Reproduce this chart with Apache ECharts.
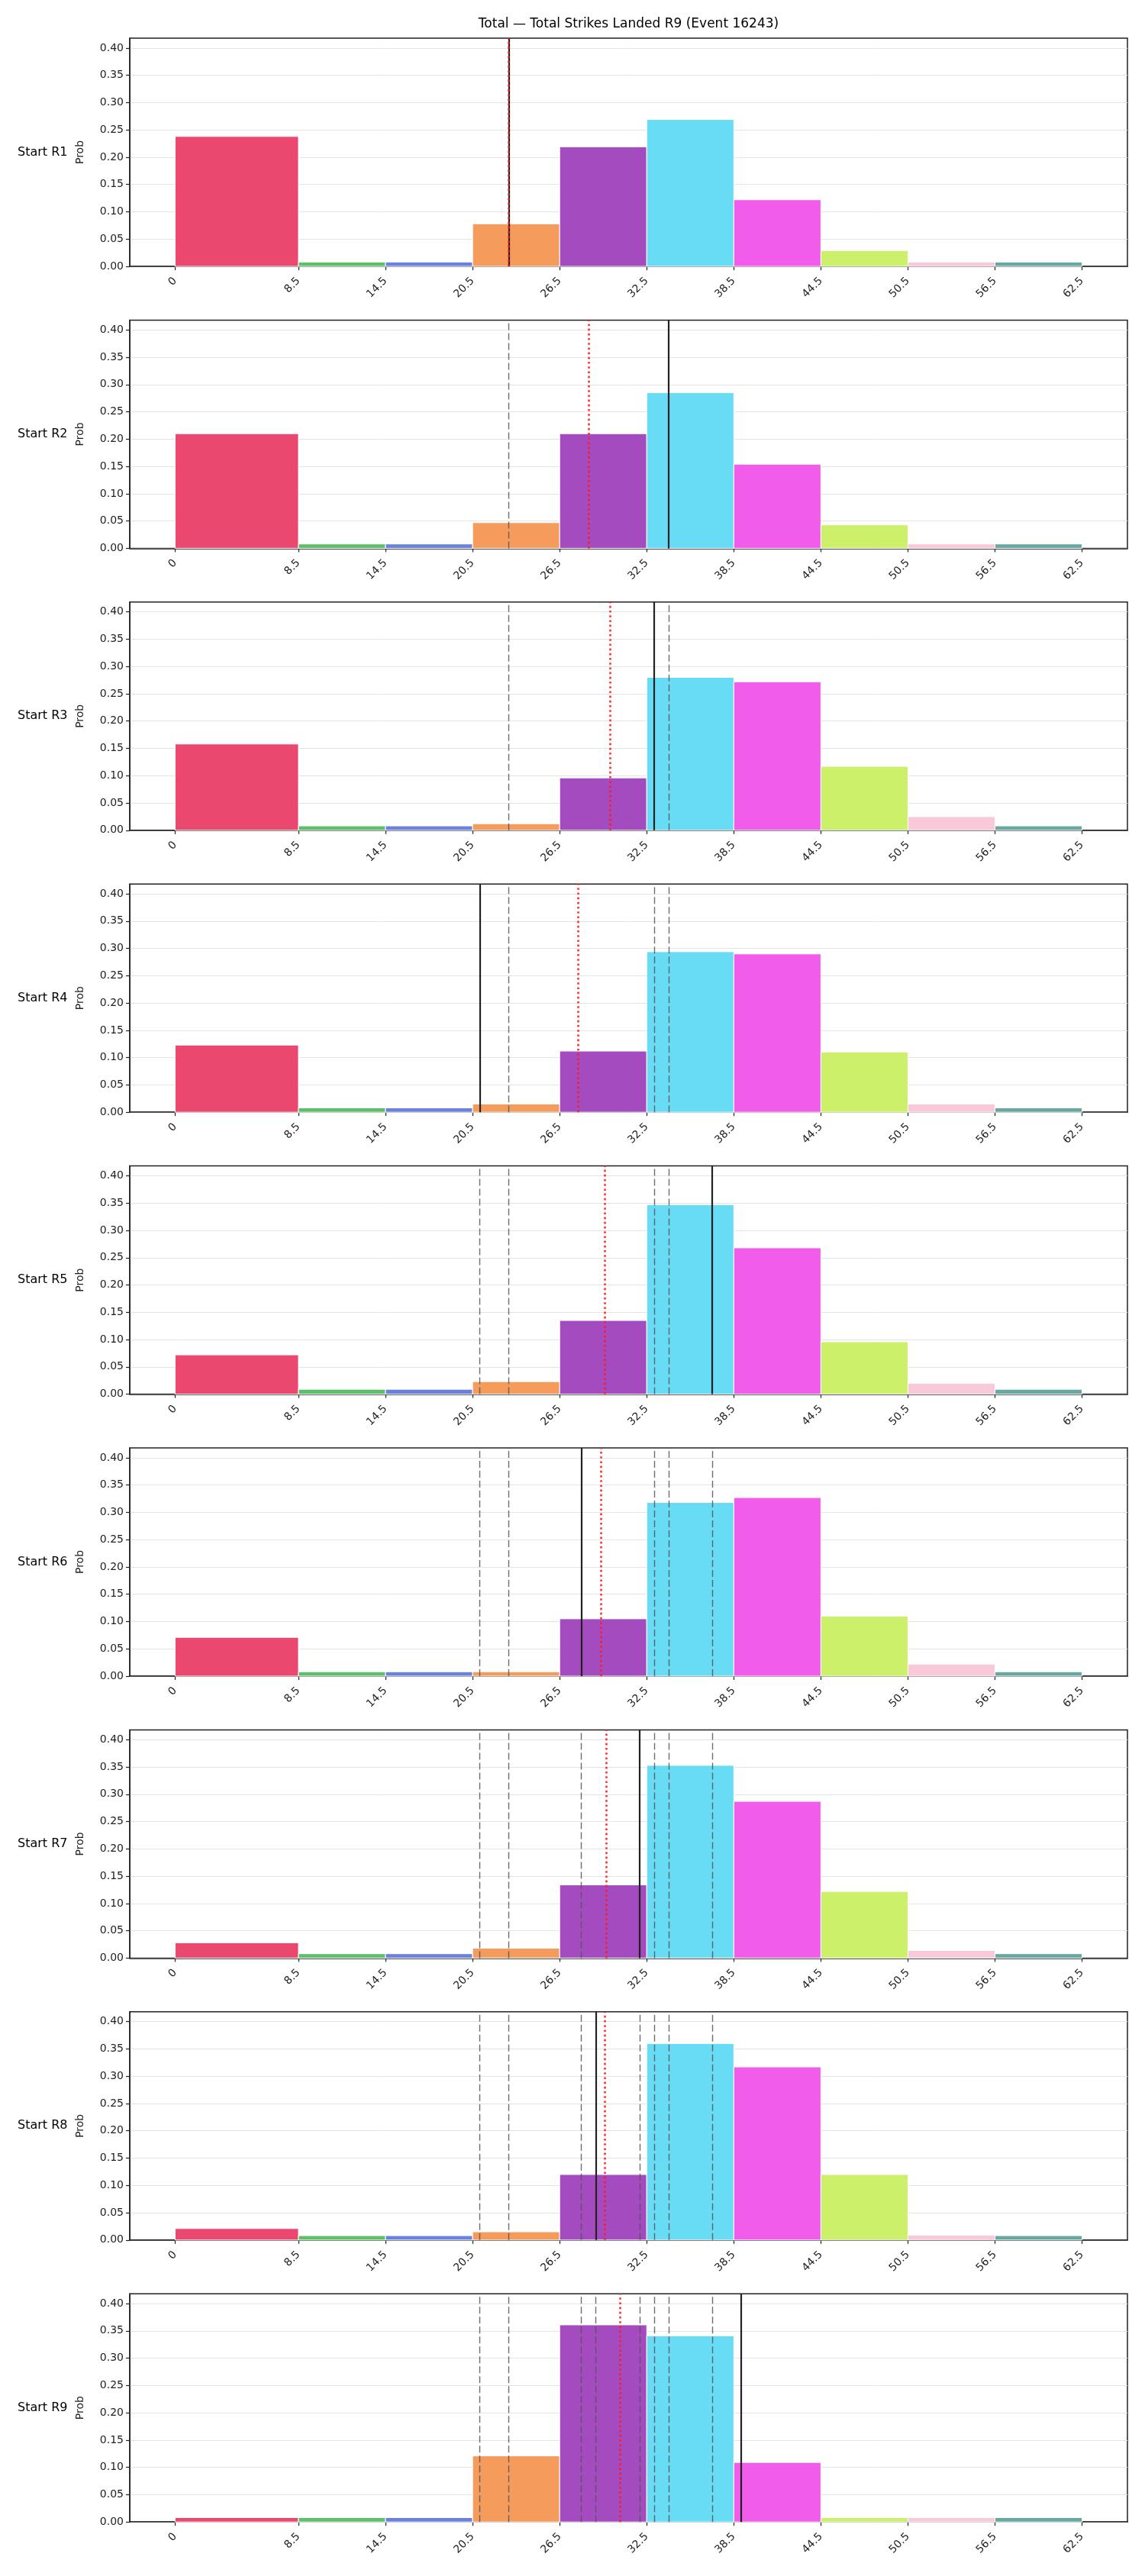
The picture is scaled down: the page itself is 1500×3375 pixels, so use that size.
<!DOCTYPE html>
<html>
<head>
<meta charset="utf-8">
<script src="https://cdn.jsdelivr.net/npm/echarts@6/dist/echarts.min.js"></script>
<style>
html,body{margin:0;padding:0;background:#fff;}
#chart{width:1500px;height:3375px;}
</style>
</head>
<body>
<div id="chart"></div>
<script>
// ---- data ----
const chartTitle = 'Total \u2014 Total Strikes Landed R9 (Event 16243)';
const binEdges = [0, 8.5, 14.5, 20.5, 26.5, 32.5, 38.5, 44.5, 50.5, 56.5, 62.5];
const rowLabels = ['Start R1','Start R2','Start R3','Start R4','Start R5','Start R6','Start R7','Start R8','Start R9'];
const probR1 = [0.238, 0.008, 0.008, 0.078, 0.219, 0.269, 0.122, 0.029, 0.008, 0.008];
const probR2 = [0.210, 0.008, 0.008, 0.047, 0.210, 0.285, 0.154, 0.043, 0.008, 0.008];
const probR3 = [0.158, 0.008, 0.008, 0.012, 0.096, 0.280, 0.272, 0.117, 0.025, 0.008];
const probR4 = [0.123, 0.008, 0.008, 0.015, 0.112, 0.294, 0.290, 0.110, 0.015, 0.008];
const probR5 = [0.072, 0.009, 0.009, 0.023, 0.135, 0.347, 0.268, 0.096, 0.020, 0.009];
const probR6 = [0.071, 0.008, 0.008, 0.008, 0.105, 0.318, 0.327, 0.110, 0.022, 0.008];
const probR7 = [0.028, 0.008, 0.008, 0.018, 0.134, 0.353, 0.287, 0.122, 0.014, 0.008];
const probR8 = [0.021, 0.008, 0.008, 0.015, 0.120, 0.360, 0.317, 0.120, 0.009, 0.008];
const probR9 = [0.008, 0.008, 0.008, 0.121, 0.361, 0.341, 0.109, 0.008, 0.008, 0.008];
const roundActuals = [23, 34, 33, 21, 37, 28, 32, 29, 39];
const runningMeans = [23, 28.5, 30, 27.75, 29.6, 29.33, 29.71, 29.63, 30.67];
const yTicks = [0, 0.05, 0.10, 0.15, 0.20, 0.25, 0.30, 0.35, 0.40];
const binColors = ['#EB4870','#5EBF6B','#6A82DE','#F59B5C','#A44BBF','#68DBF5','#F25CEA','#CCF06A','#F9C9D9','#68A8A0'];

const allProbs = [probR1, probR2, probR3, probR4, probR5, probR6, probR7, probR8, probR9];

// ---- layout ----
const plotLeft = 170, plotRight = 23, firstTop = 50, pitch = 369.4, plotH = 299;
const xMin = -3.125, xMax = 65.625, yMax = 0.418;
const FONT = 'DejaVu Sans';

const grids = [], xAxes = [], yAxes = [], series = [], graphics = [];

graphics.push({type:'text', x: plotLeft + (1500 - plotLeft - plotRight)/2, y: 32,
  style:{text: chartTitle, font: '17px "DejaVu Sans"', fill:'#000', textAlign:'center', textVerticalAlign:'middle'}});

allProbs.forEach((probs, k) => {
  const top = firstTop + k * pitch;
  grids.push({left: plotLeft, right: plotRight, top: top, height: plotH, show: true,
    borderColor: '#222', borderWidth: 1.5, backgroundColor: 'transparent', containLabel: false});
  xAxes.push({type:'value', gridIndex:k, min:xMin, max:xMax,
    axisLine:{show:true, onZero:false, lineStyle:{color:'#222', width:1.5}},
    axisTick:{show:true, length:5, lineStyle:{color:'#222', width:1.2}, customValues: binEdges},
    axisLabel:{show:true, rotate:45, margin:17, fontSize:14, fontFamily:FONT, color:'#222',
      customValues: binEdges, formatter: v => String(v)},
    splitLine:{show:false}});
  yAxes.push({type:'value', gridIndex:k, min:0, max:yMax, interval:0.05,
    name:'Prob', nameLocation:'middle', nameGap:58, nameRotate:90,
    nameTextStyle:{fontSize:14, fontFamily:FONT, color:'#222'},
    axisLine:{show:true, onZero:false, lineStyle:{color:'#222', width:1.5}},
    axisTick:{show:true, length:5, lineStyle:{color:'#222', width:1.2}, customValues: yTicks},
    axisLabel:{show:true, margin:8, fontSize:14, fontFamily:FONT, color:'#222',
      customValues: yTicks, formatter: v => v.toFixed(2)},
    splitLine:{show:true, lineStyle:{color:'#e4e4e4', width:1}}});

  graphics.push({type:'text', x: 23, y: top + plotH/2,
    style:{text: rowLabels[k], font: '16px "DejaVu Sans"', fill:'#000', textAlign:'left', textVerticalAlign:'middle'}});

  const data = probs.map((p, i) => [binEdges[i], binEdges[i+1], p, i]);

  const lines = [];
  for (let j = 0; j < k; j++) {
    lines.push({xAxis: roundActuals[j], lineStyle:{color:'#555', opacity:0.85, width:1.4, type:[9,4]}});
  }
  lines.push({xAxis: roundActuals[k], lineStyle:{color:'#222', width:2.2, type:'solid'}});
  lines.push({xAxis: runningMeans[k], lineStyle:{color:'#ff1a1a', opacity:0.9, width:2.6, type:[2.6,3.6]}});

  series.push({
    type:'custom', xAxisIndex:k, yAxisIndex:k, data: data, silent:true,
    encode:{x:[0,1], y:2},
    renderItem: function(params, api){
      const lo = api.value(0), hi = api.value(1), p = api.value(2), ci = api.value(3);
      const a = api.coord([lo, p]);
      const b = api.coord([hi, 0]);
      return {type:'rect', shape:{x:a[0], y:a[1], width:b[0]-a[0], height:b[1]-a[1]},
        style:{fill: binColors[ci], stroke:'#ffffff', lineWidth:1}};
    },
    markLine:{silent:true, symbol:['none','none'], label:{show:false}, animation:false,
      emphasis:{disabled:true}, data: lines}
  });
});

const chart = echarts.init(document.getElementById('chart'), null, {renderer:'canvas'});
chart.setOption({
  animation:false,
  backgroundColor:'#fff',
  grid: grids, xAxis: xAxes, yAxis: yAxes, series: series, graphic: graphics
});
</script>
</body>
</html>
